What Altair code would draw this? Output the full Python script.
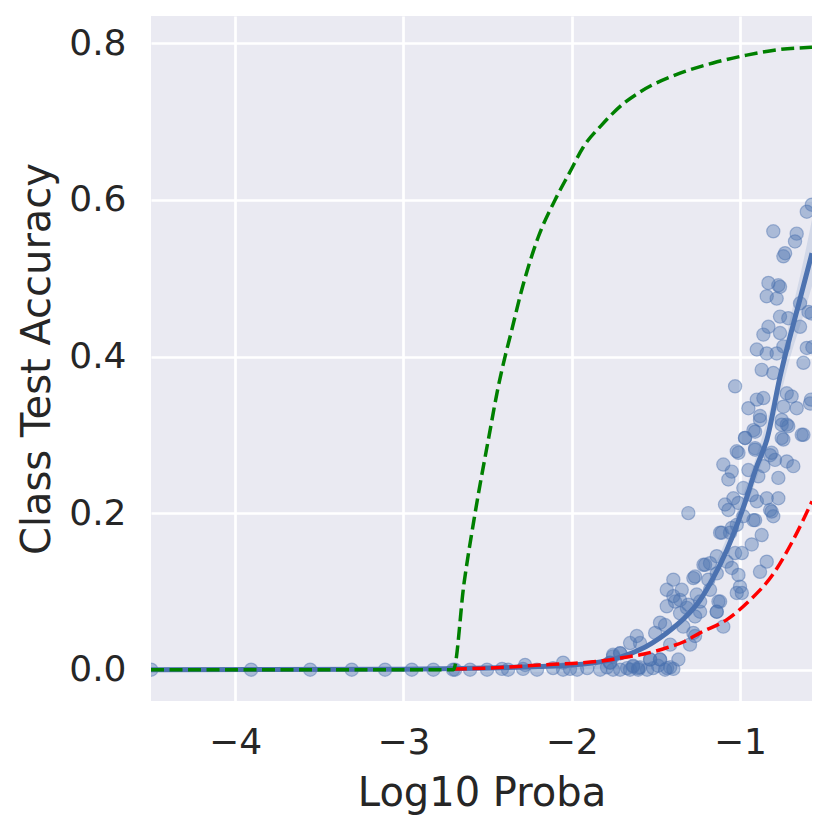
import altair as alt
import pandas as pd

# ---------------- data ----------------
point_x = [
    -4.499, -3.905, -3.554, -3.307, -3.109, -2.950, -2.822, -2.705, -2.693,
    -2.604, -2.503, -2.414, -2.378, -2.289, -2.277, -2.206, -2.111, -2.051, -2.051,
    -2.010, -1.968, -1.908, -1.831, -1.790, -1.772, -1.754, -1.754, -1.712, -1.712,
    -1.671, -1.653, -1.635, -1.605, -1.594, -1.552, -1.534, -1.516, -1.487, -1.475,
    -1.445, -1.433, -1.415, -1.396,
    -1.435, -1.396, -1.356, -1.316, -1.267, -1.475, -1.445, -1.504, -1.337, -1.267,
    -1.613, -1.653, -1.594, -1.415, -1.297, -1.366, -1.475, -1.534, -1.754, -1.712,
    -1.772, -1.635, -1.605,
    -1.435, -1.396, -1.346, -1.386, -1.307, -1.277, -1.217, -1.178, -1.138, -1.079,
    -1.029, -1.019, -1.118, -1.138, -1.099, -1.237, -1.257, -1.356, -1.277, -1.118,
    -1.059,
    -0.970, -0.910, -0.881, -0.752, -0.713, -0.623, -0.742, -1.009, -0.910, -0.821,
    -0.792, -0.722, -0.683, -1.099, -1.049, -0.950, -0.861, -1.069, -0.891, -0.772,
    -0.980, -0.930, -1.039, -1.089, -1.009, -0.900, -0.841, -0.772, -0.821, -0.802,
    -1.069, -0.980, -0.910, -1.307, -1.108, -1.049, -0.871, -0.930, -0.989, -0.841,
    -0.881, -1.138, -1.207, -1.049, -1.267, -1.188, -1.178, -1.009, -1.000, -0.989,
    -1.128, -1.237, -1.138, -1.019, -0.812, -0.920,
    -0.802, -0.663, -0.673, -0.732, -0.742, -0.603, -0.573, -0.831, -0.772, -0.762,
    -0.841, -0.782, -0.643, -0.593, -0.762, -0.713, -0.831, -0.861, -0.762, -0.643,
    -0.900, -0.841, -0.782, -0.742, -0.603, -0.623, -0.871, -0.802, -1.029, -0.950,
    -0.900, -0.861, -0.722, -0.693, -0.663, -0.584, -0.742, -0.881, -0.752, -0.722,
    -0.920, -0.970, -0.752, -0.633, -1.019, -0.910, -0.812, -0.575, -0.570, -0.578,
]
point_y = [
    0.000, 0.000, 0.000, 0.000, 0.000, 0.000, 0.000, 0.000, 0.000,
    0.000, 0.000, 0.001, 0.000, 0.001, 0.006, 0.000, 0.002, 0.009, 0.000,
    0.001, 0.000, 0.002, 0.000, 0.003, 0.009, 0.017, 0.000, 0.021, 0.000,
    0.002, 0.000, 0.005, 0.000, 0.003, 0.000, 0.013, 0.002, 0.005, 0.013,
    0.000, 0.002, 0.003, 0.001,
    0.081, 0.094, 0.089, 0.079, 0.068, 0.060, 0.057, 0.047, 0.055, 0.043,
    0.043, 0.034, 0.034, 0.032, 0.032, 0.013, 0.013, 0.013, 0.019, 0.021,
    0.009, 0.004, 0.002,
    0.102, 0.115, 0.102, 0.087, 0.083, 0.117, 0.134, 0.136, 0.123, 0.138,
    0.149, 0.098, 0.087, 0.074, 0.055, 0.074, 0.096, 0.072, 0.047, 0.175,
    0.175,
    0.296, 0.304, 0.319, 0.313, 0.311, 0.300, 0.294, 0.277, 0.281, 0.274,
    0.268, 0.266, 0.260, 0.262, 0.253, 0.255, 0.260, 0.243, 0.247, 0.245,
    0.232, 0.223, 0.219, 0.211, 0.213, 0.215, 0.219, 0.219, 0.204, 0.196,
    0.204, 0.196, 0.191, 0.200, 0.175, 0.181, 0.172, 0.160, 0.149, 0.138,
    0.125, 0.145, 0.134, 0.130, 0.119, 0.115, 0.102, 0.121, 0.106, 0.098,
    0.087, 0.087, 0.074, 0.185, 0.202, 0.191,
    0.560, 0.557, 0.547, 0.532, 0.528, 0.585, 0.594, 0.494, 0.491, 0.489,
    0.477, 0.474, 0.468, 0.457, 0.451, 0.449, 0.438, 0.428, 0.430, 0.438,
    0.409, 0.404, 0.404, 0.413, 0.411, 0.392, 0.383, 0.379, 0.362, 0.334,
    0.345, 0.347, 0.353, 0.349, 0.334, 0.340, 0.336, 0.324, 0.319, 0.313,
    0.306, 0.296, 0.296, 0.300, 0.279, 0.283, 0.277, 0.455, 0.412, 0.345,
]

fit_x = [-4.5, -3.0, -2.5, -2.2, -2.0, -1.83, -1.71, -1.60, -1.435, -1.33,
         -1.237, -1.16, -1.078, -0.979, -0.90, -0.84, -0.762, -0.645, -0.572]
fit_y = [0.0, 0.0005, 0.002, 0.004, 0.006, 0.010, 0.016, 0.025, 0.047, 0.066,
         0.089, 0.117, 0.153, 0.208, 0.26, 0.294, 0.374, 0.472, 0.532]

band_x = [-1.2, -1.0, -0.9, -0.8, -0.7, -0.62, -0.572]
band_lo = [0.100, 0.188, 0.245, 0.315, 0.400, 0.455, 0.490]
band_hi = [0.108, 0.212, 0.275, 0.350, 0.450, 0.525, 0.575]

red_x = [-2.70, -2.40, -2.19, -2.00, -1.83, -1.71, -1.57, -1.435, -1.33, -1.237,
         -1.078, -0.94, -0.80, -0.683, -0.572]
red_y = [0.001, 0.003, 0.006, 0.008, 0.011, 0.015, 0.020, 0.028, 0.036, 0.047,
         0.064, 0.089, 0.123, 0.166, 0.215]

green_x = [-4.5, -2.703, -2.64, -2.574, -2.49, -2.435, -2.396, -2.356, -2.307,
           -2.257, -2.198, -2.099, -2.010, -1.930, -1.821, -1.693, -1.594,
           -1.356, -1.160, -0.960, -0.773, -0.572]
green_y = [0.0, 0.0, 0.11, 0.200, 0.30, 0.363, 0.400, 0.434, 0.477,
           0.515, 0.553, 0.600, 0.636, 0.668, 0.696, 0.723, 0.738,
           0.762, 0.775, 0.785, 0.792, 0.795]

# ---------------- chart ----------------
BLUE = "#4C72B0"
TXT = "#262626"
FONT = "DejaVu Sans"

xs = alt.Scale(domain=[-4.5, -0.572], nice=False, zero=False)
ys = alt.Scale(domain=[-0.04, 0.835], nice=False, zero=False)

x_axis = alt.Axis(values=[-4, -3, -2, -1], format="d", title="Log10 Proba",
                  labelPadding=24, titleY=104, titleBaseline="alphabetic")
y_axis = alt.Axis(values=[0.0, 0.2, 0.4, 0.6, 0.8], format=".1f",
                  title="Class Test Accuracy", labelPadding=25,
                  titleX=-102, titleBaseline="alphabetic", titleAngle=-90)

pts = pd.DataFrame({"x": point_x, "y": point_y})
fit = pd.DataFrame({"x": fit_x, "y": fit_y})
band = pd.DataFrame({"x": band_x, "lo": band_lo, "hi": band_hi})
red = pd.DataFrame({"x": red_x, "y": red_y})
green = pd.DataFrame({"x": green_x, "y": green_y})

scatter = alt.Chart(pts).mark_circle(
    size=175, color=BLUE, fillOpacity=0.4, stroke=BLUE, strokeOpacity=0.45,
    strokeWidth=1.2, clip=True
).encode(x=alt.X("x:Q", scale=xs, axis=x_axis), y=alt.Y("y:Q", scale=ys, axis=y_axis))

band_l = alt.Chart(band).mark_area(color=BLUE, opacity=0.15, clip=True,
                                   interpolate="monotone").encode(
    x=alt.X("x:Q", scale=xs), y=alt.Y("lo:Q", scale=ys), y2="hi:Q")

fit_l = alt.Chart(fit).mark_line(color=BLUE, strokeWidth=5, clip=True,
                                 interpolate="monotone").encode(
    x=alt.X("x:Q", scale=xs), y=alt.Y("y:Q", scale=ys))

red_l = alt.Chart(red).mark_line(color="#FF0000", strokeWidth=3.5,
                                 strokeDash=[13, 5.5], clip=True,
                                 interpolate="monotone").encode(
    x=alt.X("x:Q", scale=xs), y=alt.Y("y:Q", scale=ys))

green_l = alt.Chart(green).mark_line(color="#008000", strokeWidth=3.5,
                                     strokeDash=[13, 5.5], clip=True,
                                     interpolate="monotone").encode(
    x=alt.X("x:Q", scale=xs), y=alt.Y("y:Q", scale=ys))

chart = alt.layer(scatter, band_l, fit_l, red_l, green_l).properties(
    width=661, height=685,
    autosize=alt.AutoSizeParams(type="none"),
    padding={"left": 143, "top": 8, "right": 10, "bottom": 121},
    background="white",
).configure_view(
    fill="#EAEAF2", stroke=None
).configure_axis(
    grid=True, gridColor="white", gridWidth=2.7, domain=False, ticks=False,
    labelFont=FONT, titleFont=FONT, labelFontSize=36, titleFontSize=40,
    labelColor=TXT, titleColor=TXT, titleFontWeight="normal",
)

chart.save("out.html", embed_options={"renderer": "svg", "actions": False})
